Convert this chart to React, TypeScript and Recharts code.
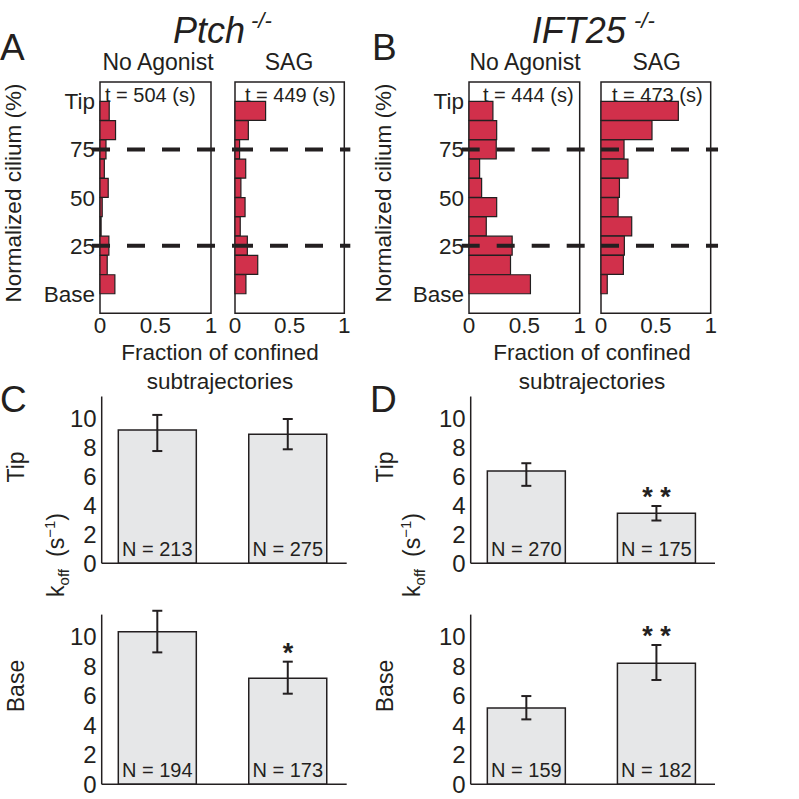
import React from 'react';
import {
  BarChart,
  Bar,
  XAxis,
  YAxis,
  ReferenceLine,
  ReferenceArea,
  ReferenceDot,
  ErrorBar,
  LabelList,
} from 'recharts';

// histogram bins (% of cilium length, bin centres from tip to base)
const bins = [95, 85, 75, 65, 55, 45, 35, 25, 15, 5];
const ptchNoAgonist = [0.083, 0.14, 0.054, 0.039, 0.074, 0.02, 0.01, 0.08, 0.065, 0.134];
const ptchSag = [0.28, 0.122, 0.042, 0.098, 0.054, 0.092, 0.048, 0.113, 0.208, 0.1];
const ift25NoAgonist = [0.216, 0.25, 0.246, 0.096, 0.114, 0.25, 0.156, 0.39, 0.375, 0.555];
const ift25Sag = [0.705, 0.465, 0.21, 0.246, 0.168, 0.156, 0.28, 0.213, 0.204, 0.057];
const yTicks = [0, 25, 50, 75, 100];
const yTickLabels = ['Base', '25', '50', '75', 'Tip'];
const xTicks = [0, 0.5, 1];
const dashLevels = [25, 75];
const timeLabels = ['t = 504 (s)', 't = 449 (s)', 't = 444 (s)', 't = 473 (s)'];

// k_off bars
const conditions = ['No Agonist', 'SAG'];
const positions = [1, 2];
const koffTicks = [0, 2, 4, 6, 8, 10];
const ptchTip = [9.19, 8.9];
const ptchTipErr = [[1.45, 1.04], [1.04, 1.05]];
const ptchTipN = [213, 275];
const ptchTipSig = ['', ''];
const ptchBase = [10.34, 7.18];
const ptchBaseErr = [[1.4, 1.42], [1.04, 1.13]];
const ptchBaseN = [194, 173];
const ptchBaseSig = ['', '*'];
const ift25Tip = [6.37, 3.45];
const ift25TipErr = [[1.03, 0.53], [0.5, 0.5]];
const ift25TipN = [270, 175];
const ift25TipSig = ['', '* *'];
const ift25Base = [5.17, 8.2];
const ift25BaseErr = [[0.77, 0.81], [1.13, 1.24]];
const ift25BaseN = [159, 182];
const ift25BaseSig = ['', '* *'];

const FONT = '"Liberation Sans", Arial, Helvetica, sans-serif';
const INK = '#231f20';
const RED = '#d1304b';
const GREY = '#e6e7e8';

function Histogram({ left, width, values, showY, mLeft, mRight, dash }) {
  const data = bins.map((b, i) => ({ bin: b, frac: values[i] }));
  return (
    <div style={{ position: 'absolute', left, top: 70 }}>
      <BarChart
        width={width}
        height={280}
        data={data}
        layout="vertical"
        barCategoryGap={0}
        margin={{ top: 12, right: mRight, bottom: 6.7, left: mLeft }}
      >
        <XAxis
          type="number"
          domain={[0, 1]}
          ticks={xTicks}
          interval={0}
          axisLine={false}
          tickLine={false}
          tickSize={0}
          tickMargin={4}
          height={30}
          tick={{ fontSize: 22.5, fill: INK }}
        />
        <YAxis
          type="number"
          dataKey="bin"
          domain={[-10, 110]}
          reversed
          ticks={yTicks}
          interval={0}
          hide={!showY}
          width={60}
          axisLine={false}
          tickLine={false}
          tickSize={0}
          tickMargin={5}
          tick={{ fontSize: 22.5, fill: INK }}
          tickFormatter={(v) => yTickLabels[yTicks.indexOf(v)]}
        />
        <Bar dataKey="frac" fill={RED} stroke={INK} strokeWidth={1.2} isAnimationActive={false} />
        <ReferenceArea x1={0} x2={1} y1={-10} y2={110} fill="none" fillOpacity={0} stroke={INK} strokeWidth={1.5} />
        {dashLevels.map((d) => (
          <ReferenceLine
            key={d}
            segment={[{ x: dash[0], y: d }, { x: dash[1], y: d }]}
            ifOverflow="visible"
            stroke={INK}
            strokeWidth={4}
            strokeDasharray="18 17"
          />
        ))}
      </BarChart>
    </div>
  );
}

function Stars(props) {
  const { cx, cy, sig } = props;
  return (
    <text x={cx} y={cy} textAnchor="middle" fontSize={27} fontWeight="bold" fill={INK}>
      {sig}
    </text>
  );
}

function KoffPanel({ left, top, height, mTop, mBottom, mRight, rates, errs, ns, sig }) {
  const data = conditions.map((c, i) => ({
    name: c,
    pos: positions[i],
    rate: rates[i],
    err: errs[i],
    n: ns[i],
  }));
  return (
    <div style={{ position: 'absolute', left, top }}>
      <BarChart
        width={320}
        height={height}
        data={data}
        margin={{ top: mTop, right: mRight, bottom: mBottom, left: 21.7 }}
      >
        <XAxis
          type="number"
          dataKey="pos"
          domain={[0.572, 2.45]}
          allowDataOverflow
          tick={false}
          tickLine={false}
          height={2}
          axisLine={{ stroke: INK, strokeWidth: 1.5 }}
        />
        <YAxis
          type="number"
          domain={[0, 11.5]}
          allowDataOverflow
          ticks={koffTicks}
          interval={0}
          width={40}
          tickLine={false}
          tickSize={0}
          tickMargin={5}
          axisLine={{ stroke: INK, strokeWidth: 1.5 }}
          tick={{ fontSize: 24, fill: INK }}
        />
        <Bar dataKey="rate" barSize={78} fill={GREY} stroke={INK} strokeWidth={1.5} isAnimationActive={false}>
          <ErrorBar dataKey="err" width={5} strokeWidth={2} stroke={INK} direction="y" />
          <LabelList
            dataKey="n"
            position="insideBottom"
            offset={7}
            fontSize={20}
            fill={INK}
            formatter={(v) => `N = ${v}`}
          />
        </Bar>
        {data
          .filter((d, i) => sig[i])
          .map((d) => (
            <ReferenceDot
              key={d.name}
              x={d.pos}
              y={d.rate + d.err[1]}
              r={0}
              shape={(p) => <Stars {...p} sig={sig[positions.indexOf(d.pos)]} />}
            />
          ))}
      </BarChart>
    </div>
  );
}

function Koff({ x, y }) {
  return (
    <text transform={`translate(${x},${y}) rotate(-90)`} textAnchor="middle" fontSize={23}>
      k
      <tspan fontSize={15} dy={5}>off</tspan>
      <tspan dx={12} dy={-5}>(s</tspan>
      <tspan fontSize={15} dy={-9}>−1</tspan>
      <tspan dy={9}>)</tspan>
    </text>
  );
}

export default function App() {
  return (
    <div
      style={{
        position: 'absolute',
        left: 0,
        top: 0,
        width: 799,
        height: 799,
        background: '#fff',
        overflow: 'hidden',
        fontFamily: FONT,
      }}
    >
      <Histogram left={40} width={210} values={ptchNoAgonist} showY mLeft={0} mRight={39} dash={[-0.072, 1.213]} />
      <Histogram left={214.7} width={145.3} values={ptchSag} showY={false} mLeft={20} mRight={16} dash={[0, 1.055]} />
      <Histogram left={409.3} width={210} values={ift25NoAgonist} showY mLeft={0} mRight={39.3} dash={[-0.066, 1.192]} />
      <Histogram left={581} width={149.7} values={ift25Sag} showY={false} mLeft={20} mRight={20} dash={[0, 1.067]} />

      <KoffPanel left={40} top={380} height={200} mTop={16.5} mBottom={14.7} mRight={13.3}
        rates={ptchTip} errs={ptchTipErr} ns={ptchTipN} sig={ptchTipSig} />
      <KoffPanel left={40} top={600} height={199} mTop={14.6} mBottom={12.7} mRight={13.3}
        rates={ptchBase} errs={ptchBaseErr} ns={ptchBaseN} sig={ptchBaseSig} />
      <KoffPanel left={409.3} top={380} height={200} mTop={16.5} mBottom={14.7} mRight={14}
        rates={ift25Tip} errs={ift25TipErr} ns={ift25TipN} sig={ift25TipSig} />
      <KoffPanel left={409.3} top={600} height={199} mTop={14.6} mBottom={12.7} mRight={14}
        rates={ift25Base} errs={ift25BaseErr} ns={ift25BaseN} sig={ift25BaseSig} />

      <svg
        width={799}
        height={799}
        style={{ position: 'absolute', left: 0, top: 0, pointerEvents: 'none' }}
        fill={INK}
        fontFamily={FONT}
      >
        <text x={0} y={60} fontSize={37}>A</text>
        <text x={372} y={60} fontSize={37}>B</text>
        <text x={0} y={412} fontSize={37}>C</text>
        <text x={370} y={412} fontSize={37}>D</text>

        <text x={173} y={43} fontSize={36} fontStyle="italic">Ptch</text>
        <text x={251} y={28} fontSize={22} fontStyle="italic">-/-</text>
        <text x={531.7} y={43} fontSize={36} fontStyle="italic">IFT25</text>
        <text x={634} y={28} fontSize={22} fontStyle="italic">-/-</text>

        <text x={158} y={70} fontSize={23} textAnchor="middle">No Agonist</text>
        <text x={289} y={70} fontSize={23} textAnchor="middle">SAG</text>
        <text x={525} y={70} fontSize={23} textAnchor="middle">No Agonist</text>
        <text x={656.7} y={70} fontSize={23} textAnchor="middle">SAG</text>

        <text x={105} y={101.5} fontSize={20}>{timeLabels[0]}</text>
        <text x={245} y={101.5} fontSize={20}>{timeLabels[1]}</text>
        <text x={483} y={101.5} fontSize={20}>{timeLabels[2]}</text>
        <text x={612} y={101.5} fontSize={20}>{timeLabels[3]}</text>

        <text transform="translate(21,193) rotate(-90)" textAnchor="middle" fontSize={22.5}>Normalized cilium (%)</text>
        <text transform="translate(391,193) rotate(-90)" textAnchor="middle" fontSize={22.5}>Normalized cilium (%)</text>

        <text x={220} y={360} fontSize={22.5} textAnchor="middle">Fraction of confined</text>
        <text x={220} y={389} fontSize={22.5} textAnchor="middle">subtrajectories</text>
        <text x={592} y={360} fontSize={22.5} textAnchor="middle">Fraction of confined</text>
        <text x={592} y={389} fontSize={22.5} textAnchor="middle">subtrajectories</text>

        <text transform="translate(24,467) rotate(-90)" textAnchor="middle" fontSize={23}>Tip</text>
        <text transform="translate(23.5,686) rotate(-90)" textAnchor="middle" fontSize={23}>Base</text>
        <text transform="translate(393,467) rotate(-90)" textAnchor="middle" fontSize={23}>Tip</text>
        <text transform="translate(392.5,686) rotate(-90)" textAnchor="middle" fontSize={23}>Base</text>

        <Koff x={63.5} y={555} />
        <Koff x={420.2} y={555} />
      </svg>
    </div>
  );
}
